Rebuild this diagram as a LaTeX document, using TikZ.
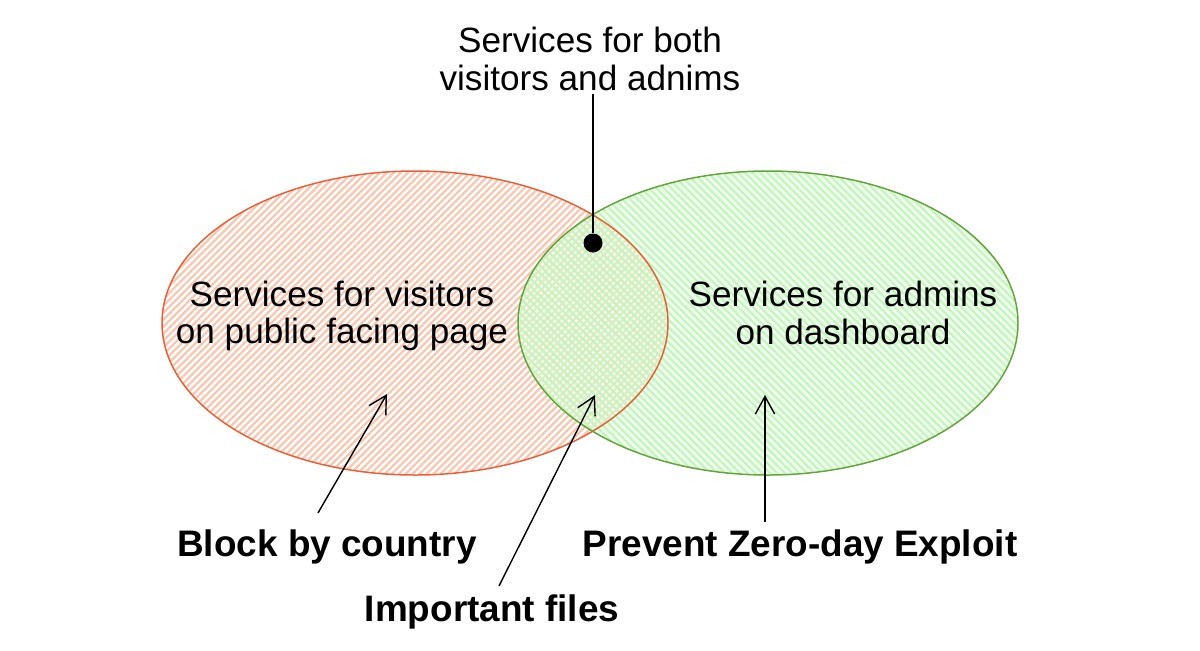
\documentclass[tikz,border=0pt]{standalone}
\usepackage{fontspec}
\setmainfont{Liberation Sans}
\usetikzlibrary{patterns.meta,arrows.meta,calc}

\definecolor{redline}{RGB}{232,96,56}
\definecolor{redhatch}{RGB}{250,198,176}
\definecolor{greenline}{RGB}{98,165,58}
\definecolor{greenfill}{RGB}{226,255,222}
\definecolor{greenhatch}{RGB}{196,245,188}

\begin{document}
\begin{tikzpicture}[x=0.02cm,y=-0.02cm,
    txt/.style={align=center,inner sep=2pt,font=\fontsize{20}{21.3}\selectfont},
    lbl/.style={inner sep=2pt,font=\bfseries\fontsize{21}{23}\selectfont},
    arr/.style={-{Straight Barb[length=10pt,width=11pt]},line width=0.8pt}]
  \useasboundingbox (0,0) rectangle (1200,650);

  % the two sets
  \fill[pattern={Lines[angle=45,distance=2.8pt,line width=1.3pt]},pattern color=redhatch]
    (415,323) ellipse [x radius=253,y radius=152];
  \fill[greenfill,opacity=0.55] (768,323) ellipse [x radius=250,y radius=152];
  \fill[pattern={Lines[angle=-45,distance=3pt,line width=1.2pt]},pattern color=greenhatch]
    (768,323) ellipse [x radius=250,y radius=152];
  \draw[redline,line width=0.85pt] (415,323) ellipse [x radius=253,y radius=152];
  \draw[greenline,line width=0.85pt] (768,323) ellipse [x radius=250,y radius=152];

  \node[txt] (visitors) at (342,316) {Services for visitors\\on public facing page};
  \node[txt] (admins) at (843,313) {Services for admins\\on dashboard};
  \node[txt] (both) at (590,59) {Services for both\\visitors and adnims};
  \node[circle,fill,inner sep=0pt,minimum size=0.38cm] (dot) at (593,243) {};

  \node[lbl] (block) at (327,547) {Block by country};
  \node[lbl] (files) at (492,612) {Important files};
  \node[lbl] (zeroday) at (800,547) {Prevent Zero-day Exploit};

  \coordinate (blocktip) at (387,394);
  \coordinate (filestip) at (595,395);
  \coordinate (zerotip) at (765,395);

  \draw[line width=0.8pt] (both.south -| dot) -- (dot);
  \draw[arr] ($(block.north)+(-9,-13)$) -- (blocktip);
  \draw[arr] ($(files.north)+(7,-5)$) -- (filestip);
  \draw[arr] ($(zeroday.north)+(-35,-4)$) -- (zerotip);
\end{tikzpicture}
\end{document}
